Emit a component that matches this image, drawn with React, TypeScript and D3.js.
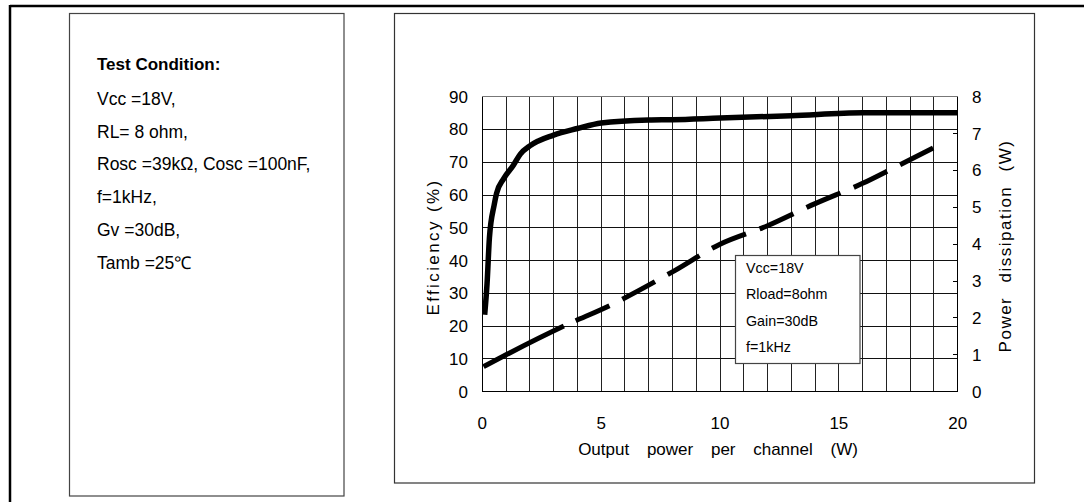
import React from "react";
import * as d3 from "d3";

// ---- data ----
const effX = [0.1, 0.2, 0.3, 0.5, 0.6, 0.9, 1.3, 1.6, 2.0, 3.0, 4.0, 5.0, 7.0, 8.0, 10, 13, 16, 20];
const effY = [23.5, 33, 47, 57, 60.5, 65, 69, 72.5, 75, 78.3, 80.3, 82, 82.9, 83, 83.5, 84.2, 85.1, 85.1];
const pdX = [0.05, 1, 3.5, 5.4, 8, 10, 12, 14, 16, 17.4, 19.4];
const pdY = [0.68, 1.0, 1.8, 2.35, 3.25, 4.0, 4.5, 5.1, 5.65, 6.1, 6.75];
const xTicks = [0, 5, 10, 15, 20];
const xGrid = d3.range(0, 21, 1);
const yLeftTicks = [0, 10, 20, 30, 40, 50, 60, 70, 80, 90];
const yRightTicks = [0, 1, 2, 3, 4, 5, 6, 7, 8];
const conditionTitle = "Test Condition:";
const conditionLines = [
  "Vcc =18V,",
  "RL= 8 ohm,",
  "Rosc =39kΩ, Cosc =100nF,",
  "f=1kHz,",
  "Gv =30dB,",
  "Tamb =25℃",
];
const legendLines = ["Vcc=18V", "Rload=8ohm", "Gain=30dB", "f=1kHz"];
const xTitle = "Output power per channel (W)";
const yLeftTitle = "Efficiency (%)";
const yRightTitle = "Power dissipation (W)";

const FONT = "'Liberation Sans', Arial, sans-serif";

export default function App() {
  const W = 1084, H = 502;
  const pl = 482.3, pr = 957.7, pt = 96.7, pb = 391.7;
  const x = d3.scaleLinear().domain([0, 20]).range([pl, pr]);
  const yL = d3.scaleLinear().domain([0, 90]).range([pb, pt]);
  const yR = d3.scaleLinear().domain([0, 8]).range([pb, pt]);

  const effLine = d3
    .line<number>()
    .x((_, i) => x(effX[i]))
    .y((d) => yL(d))
    .curve(d3.curveMonotoneX)(effY) as string;
  const pdLine = d3
    .line<number>()
    .x((_, i) => x(pdX[i]))
    .y((d) => yR(d))
    .curve(d3.curveMonotoneX)(pdY) as string;

  const dash = ["90", "13"].concat(d3.range(16).flatMap(() => ["37", "14.5"])).join(" ");

  return (
    <svg
      width={W}
      height={H}
      style={{ position: "absolute", left: 0, top: 0, background: "#fff" }}
      fontFamily={FONT}
    >
      <rect x={0} y={0} width={W} height={H} fill="#fff" />
      {/* outer frame */}
      <line x1={10} y1={6} x2={W} y2={6} stroke="#000" strokeWidth={2.5} />
      <line x1={10} y1={5} x2={10} y2={H} stroke="#000" strokeWidth={2.5} />

      {/* left box */}
      <rect x={69.5} y={13.5} width={274.5} height={482.5} fill="#fff" stroke="#444" strokeWidth={1.2} />
      <text x={97} y={70} fontSize={17} fontWeight="bold" fill="#000">
        {conditionTitle}
      </text>
      {conditionLines.map((t, i) => (
        <text key={t} x={97} y={105 + i * 32.7} fontSize={17.5} fill="#000">
          {t}
        </text>
      ))}

      {/* chart box */}
      <rect x={394.5} y={13.5} width={640} height={469.5} fill="#fff" stroke="#333" strokeWidth={1.2} />

      {/* grid */}
      <g shapeRendering="crispEdges">
        {xGrid.map((v) => (
          <line key={"vx" + v} x1={x(v)} x2={x(v)} y1={pt} y2={pb} stroke="#222" strokeWidth={1} />
        ))}
        {yLeftTicks.map((v) => (
          <line key={"hy" + v} x1={pl} x2={pr} y1={yL(v)} y2={yL(v)} stroke="#111" strokeWidth={1} />
        ))}
        {yRightTicks.map((v) => (
          <line key={"rt" + v} x1={pr - 5} x2={pr} y1={yR(v)} y2={yR(v)} stroke="#000" strokeWidth={1} />
        ))}
        <line x1={pl} x2={pl} y1={pt} y2={pb} stroke="#000" strokeWidth={1.5} />
        <line x1={pr} x2={pr} y1={pt} y2={pb} stroke="#000" strokeWidth={1.5} />
        <line x1={pl} x2={pr} y1={pb} y2={pb} stroke="#000" strokeWidth={1.5} />
        <line x1={pl} x2={pr} y1={pt} y2={pt} stroke="#777" strokeWidth={1} />
      </g>

      {/* series */}
      <path d={pdLine} fill="none" stroke="#000" strokeWidth={5} strokeDasharray={dash} />
      <path d={effLine} fill="none" stroke="#000" strokeWidth={5.5} strokeLinejoin="round" />

      {/* legend box */}
      <rect x={735.5} y={255.5} width={124.5} height={108} fill="#fff" stroke="#444" strokeWidth={1.2} />
      {legendLines.map((t, i) => (
        <text key={t} x={746} y={273 + i * 26.3} fontSize={14.3} fill="#000">
          {t}
        </text>
      ))}

      {/* axis labels */}
      {yLeftTicks.map((v) => (
        <text key={"yl" + v} x={468} y={yL(v) + 6} fontSize={17} textAnchor="end" fill="#000">
          {v}
        </text>
      ))}
      {yRightTicks.map((v) => (
        <text key={"yr" + v} x={972} y={yR(v) + 6} fontSize={17} fill="#000">
          {v}
        </text>
      ))}
      {xTicks.map((v) => (
        <text key={"xt" + v} x={x(v)} y={429} fontSize={17} textAnchor="middle" fill="#000">
          {v}
        </text>
      ))}

      <text x={718} y={455} fontSize={17} textAnchor="middle" fill="#000" style={{ wordSpacing: "13px" }}>
        {xTitle}
      </text>
      <text
        transform={`translate(439,247) rotate(-90)`}
        fontSize={17}
        textAnchor="middle"
        fill="#000"
        style={{ letterSpacing: "2.4px" }}
      >
        {yLeftTitle}
      </text>
      <text
        transform={`translate(1011,246) rotate(-90)`}
        fontSize={17}
        textAnchor="middle"
        fill="#000"
        style={{ letterSpacing: "1.5px", wordSpacing: "8px" }}
      >
        {yRightTitle}
      </text>
    </svg>
  );
}
